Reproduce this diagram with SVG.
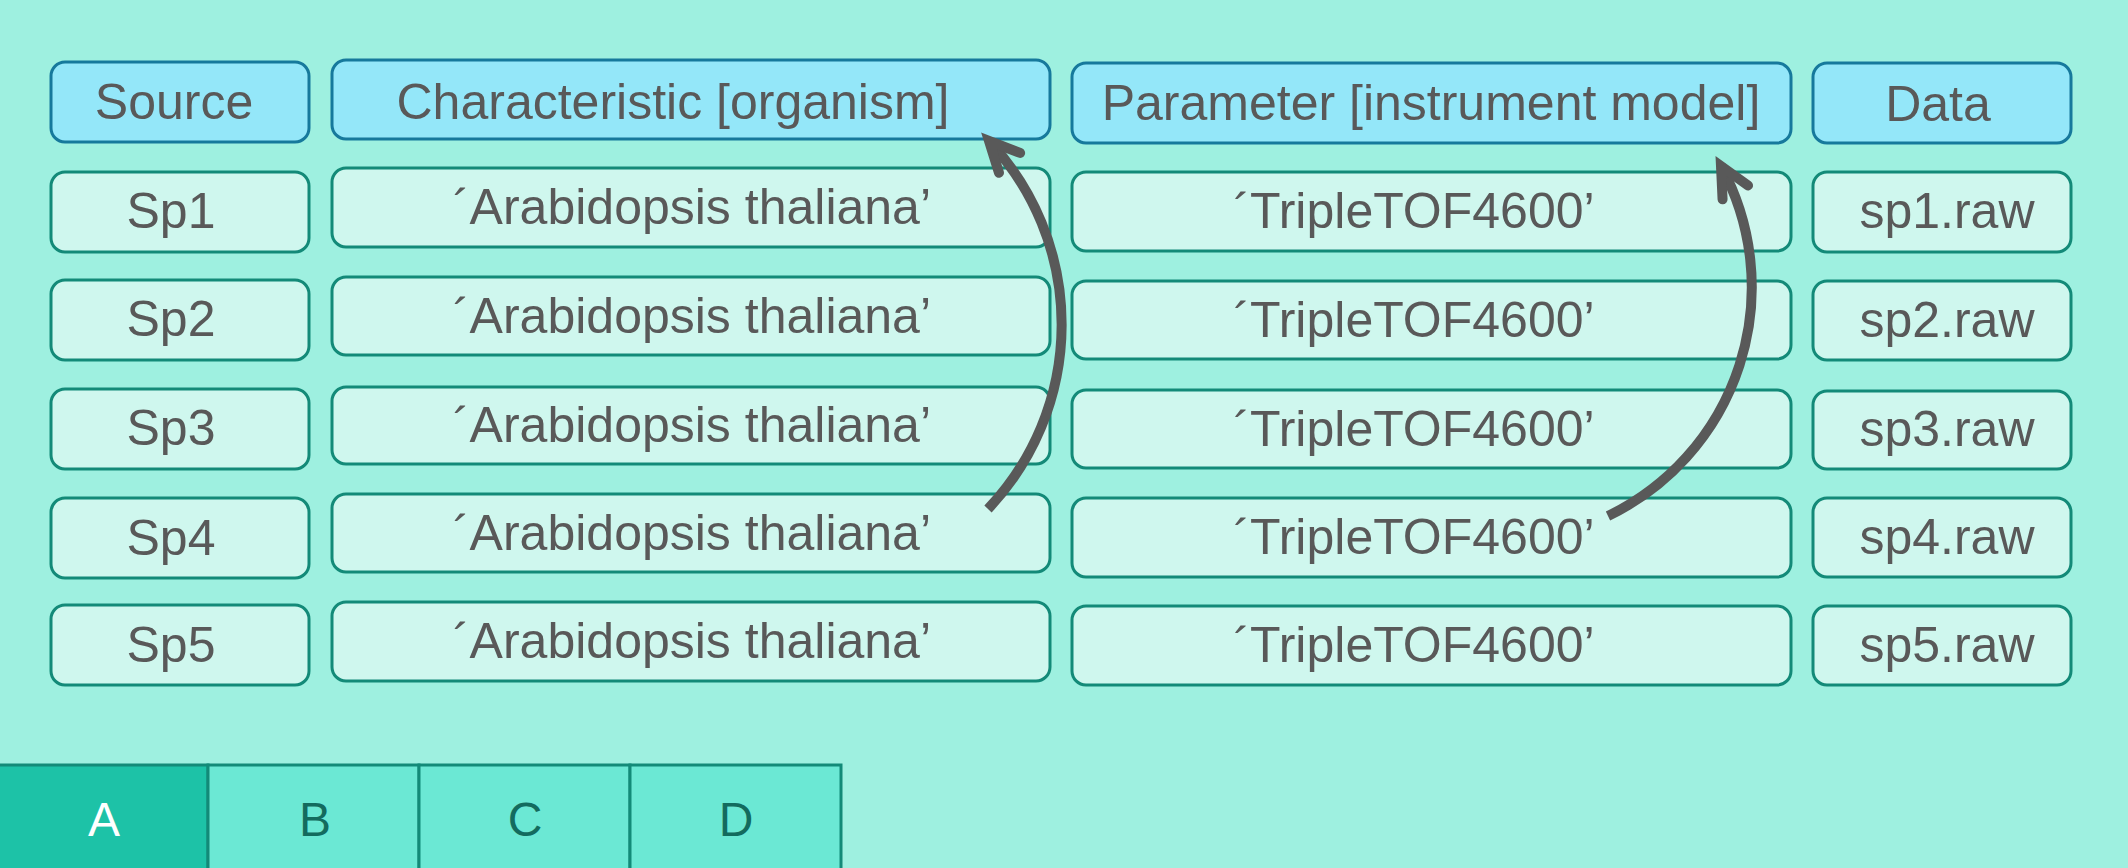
<svg xmlns="http://www.w3.org/2000/svg" width="2128" height="868" viewBox="0 0 2128 868">
<defs>
<style>
.hd{fill:#94E7F9;stroke:#16799C;stroke-width:3}
.cell{fill:#CFF7EE;stroke:#138A78;stroke-width:3}
.t{font-family:"Liberation Sans",Arial,sans-serif;font-size:50px;fill:#595959;text-anchor:middle}
.tab{stroke:#138A78;stroke-width:3}
.tabA{fill:#1DC2A7}
.tabB{fill:#6BE8D4}
.tt{font-family:"Liberation Sans",Arial,sans-serif;font-size:48px;text-anchor:middle}
.conn{fill:none;stroke:#595959;stroke-width:10;stroke-linecap:butt}
</style>
<marker id="arr" markerUnits="userSpaceOnUse" orient="auto" refX="0" refY="0" markerWidth="80" markerHeight="80" overflow="visible">
<path d="M -30 -14.5 L 0 0 L -30 14.5" fill="none" stroke="#595959" stroke-width="10" stroke-linecap="round" stroke-linejoin="miter" stroke-miterlimit="10"/>
</marker>
</defs>
<rect width="2128" height="868" fill="#9EF0E0"/>

<g id="header-source"><rect class="hd" x="51" y="62" width="258" height="80" rx="14"/><text class="t" x="174" y="119">Source</text></g>
<g id="header-characteristic"><rect class="hd" x="332" y="60" width="718" height="79" rx="14"/><text class="t" x="673" y="119">Characteristic [organism]</text></g>
<g id="header-parameter"><rect class="hd" x="1072" y="63" width="719" height="80" rx="14"/><text class="t" x="1431" y="120">Parameter [instrument model]</text></g>
<g id="header-data"><rect class="hd" x="1813" y="63" width="258" height="80" rx="14"/><text class="t" x="1938" y="121">Data</text></g>

<g id="sp1"><rect class="cell" x="51" y="172" width="258" height="80" rx="14"/><text class="t" x="171" y="228">Sp1</text></g>
<g id="sp2"><rect class="cell" x="51" y="280" width="258" height="80" rx="14"/><text class="t" x="171" y="336">Sp2</text></g>
<g id="sp3"><rect class="cell" x="51" y="389" width="258" height="80" rx="14"/><text class="t" x="171" y="445">Sp3</text></g>
<g id="sp4"><rect class="cell" x="51" y="498" width="258" height="80" rx="14"/><text class="t" x="171" y="555">Sp4</text></g>
<g id="sp5"><rect class="cell" x="51" y="605" width="258" height="80" rx="14"/><text class="t" x="171" y="662">Sp5</text></g>

<g id="org1"><rect class="cell" x="332" y="168" width="718" height="79" rx="14"/><text class="t" x="692" y="224">´Arabidopsis thaliana’</text></g>
<g id="org2"><rect class="cell" x="332" y="277" width="718" height="78" rx="14"/><text class="t" x="692" y="333">´Arabidopsis thaliana’</text></g>
<g id="org3"><rect class="cell" x="332" y="387" width="718" height="77" rx="14"/><text class="t" x="692" y="442">´Arabidopsis thaliana’</text></g>
<g id="org4"><rect class="cell" x="332" y="494" width="718" height="78" rx="14"/><text class="t" x="692" y="550">´Arabidopsis thaliana’</text></g>
<g id="org5"><rect class="cell" x="332" y="602" width="718" height="79" rx="14"/><text class="t" x="692" y="658">´Arabidopsis thaliana’</text></g>

<g id="inst1"><rect class="cell" x="1072" y="172" width="719" height="79" rx="14"/><text class="t" x="1414" y="228">´TripleTOF4600’</text></g>
<g id="inst2"><rect class="cell" x="1072" y="281" width="719" height="78" rx="14"/><text class="t" x="1414" y="337">´TripleTOF4600’</text></g>
<g id="inst3"><rect class="cell" x="1072" y="390" width="719" height="78" rx="14"/><text class="t" x="1414" y="446">´TripleTOF4600’</text></g>
<g id="inst4"><rect class="cell" x="1072" y="498" width="719" height="79" rx="14"/><text class="t" x="1414" y="554">´TripleTOF4600’</text></g>
<g id="inst5"><rect class="cell" x="1072" y="606" width="719" height="79" rx="14"/><text class="t" x="1414" y="662">´TripleTOF4600’</text></g>

<g id="data1"><rect class="cell" x="1813" y="172" width="258" height="80" rx="14"/><text class="t" x="1947" y="228">sp1.raw</text></g>
<g id="data2"><rect class="cell" x="1813" y="281" width="258" height="79" rx="14"/><text class="t" x="1947" y="337">sp2.raw</text></g>
<g id="data3"><rect class="cell" x="1813" y="391" width="258" height="78" rx="14"/><text class="t" x="1947" y="446">sp3.raw</text></g>
<g id="data4"><rect class="cell" x="1813" y="498" width="258" height="79" rx="14"/><text class="t" x="1947" y="554">sp4.raw</text></g>
<g id="data5"><rect class="cell" x="1813" y="606" width="258" height="79" rx="14"/><text class="t" x="1947" y="662">sp5.raw</text></g>

<g id="connectors">
<path class="conn" d="M 988 509 A 268 268 0 0 0 989 141" marker-end="url(#arr)"/>
<path class="conn" d="M 1608 516 A 254 254 0 0 0 1721 166" marker-end="url(#arr)"/>
</g>

<g id="tabs">
<rect class="tab tabA" x="-3" y="765" width="211" height="110"/>
<rect class="tab tabB" x="208" y="765" width="211" height="110"/>
<rect class="tab tabB" x="419" y="765" width="211" height="110"/>
<rect class="tab tabB" x="630" y="765" width="211" height="110"/>
<text class="tt" x="104" y="836" fill="#FFFFFF">A</text>
<text class="tt" x="315" y="836" fill="#136B5E">B</text>
<text class="tt" x="525" y="836" fill="#136B5E">C</text>
<text class="tt" x="736" y="836" fill="#136B5E">D</text>
</g>
</svg>
